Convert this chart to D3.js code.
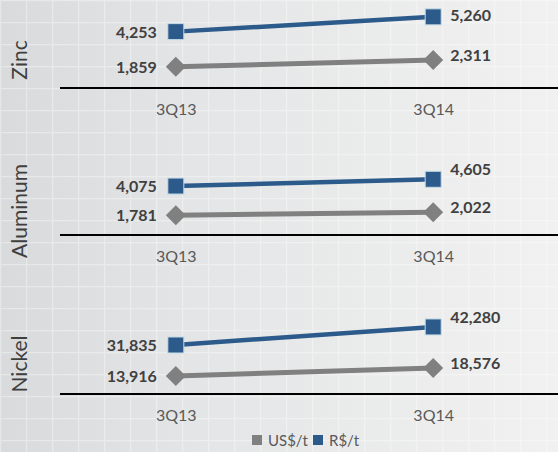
<!DOCTYPE html>
<html>
<head>
<meta charset="utf-8">
<script src="https://cdn.jsdelivr.net/npm/d3@7"></script>
<style>
  html, body { margin: 0; padding: 0; background: #e6e6e6; }
  svg { display: block; }
</style>
</head>
<body>
<div id="chart"></div>
<script>
// ---- data ----
const categories = ["3Q13", "3Q14"];
const metals = ["Zinc", "Aluminum", "Nickel"];
const seriesNames = ["US$/t", "R$/t"];
const zincUSD = [1859, 2311];
const zincBRL = [4253, 5260];
const aluminumUSD = [1781, 2022];
const aluminumBRL = [4075, 4605];
const nickelUSD = [13916, 18576];
const nickelBRL = [31835, 42280];
const yMax = [6000, 6000, 50000];

// ---- layout ----
const W = 558, H = 452;
const colors = { "US$/t": "#808080", "R$/t": "#2c5b8b" };
const panelLayout = [
  { axisY: 88,  zeroY: 94,  topY: 6,     titleY: 60 },
  { axisY: 235, zeroY: 238, topY: 161.5, titleY: 211 },
  { axisY: 394, zeroY: 400, topY: 313.6, titleY: 364 }
];
const panelData = [
  [zincUSD, zincBRL],
  [aluminumUSD, aluminumBRL],
  [nickelUSD, nickelBRL]
];

const svg = d3.select("#chart").append("svg")
  .attr("width", W).attr("height", H)
  .style("font-family", "Lato, 'Open Sans', sans-serif");

// background
const defs = svg.append("defs");
const grad = defs.append("linearGradient").attr("id", "bg").attr("x1", 0).attr("x2", 1).attr("y1", 0).attr("y2", 0);
grad.append("stop").attr("offset", "0%").attr("stop-color", "#d9dadb");
grad.append("stop").attr("offset", "35%").attr("stop-color", "#e4e5e6");
grad.append("stop").attr("offset", "100%").attr("stop-color", "#f1f1f1");
svg.append("rect").attr("width", W).attr("height", H).attr("fill", "url(#bg)");
const pat = defs.append("pattern").attr("id", "grid").attr("width", 26).attr("height", 22).attr("patternUnits", "userSpaceOnUse");
pat.append("path").attr("d", "M0 0.5H26 M0.5 0V22").attr("stroke", "#ffffff").attr("stroke-opacity", 0.35).attr("stroke-width", 1.5).attr("fill", "none");
svg.append("rect").attr("width", W).attr("height", H).attr("fill", "url(#grid)");

const x = d3.scalePoint().domain(categories).range([60, 549]).padding(0.45);

metals.forEach((metal, pi) => {
  const L = panelLayout[pi];
  const y = d3.scaleLinear().domain([0, yMax[pi]]).range([L.zeroY, L.topY]);
  const g = svg.append("g");

  // title
  g.append("text")
    .attr("transform", `translate(27,${L.titleY}) rotate(-90)`)
    .attr("text-anchor", "middle")
    .attr("font-size", 21)
    .attr("fill", "#3f3f3f")
    .text(metal);

  // axis
  const axis = d3.axisBottom(x).tickSize(0).tickPadding(0);
  const ag = g.append("g").attr("transform", `translate(0,${L.axisY})`).call(axis);
  ag.select(".domain").attr("d", `M60,0H${W}`).attr("stroke", "#000").attr("stroke-width", 2.2);
  ag.selectAll(".tick text")
    .attr("y", 27).attr("dy", 0)
    .attr("font-size", 16).attr("font-family", "Lato, 'Open Sans', sans-serif")
    .attr("fill", "#595959");

  const line = d3.line().x((d, i) => x(categories[i])).y(d => y(d));

  seriesNames.forEach((s, si) => {
    const vals = panelData[pi][si];
    g.append("path").datum(vals)
      .attr("d", line)
      .attr("fill", "none")
      .attr("stroke", colors[s])
      .attr("stroke-width", si === 0 ? 5 : 4.5);

    const pts = g.selectAll(null).data(vals).enter();
    if (si === 0) {
      pts.append("path")
        .attr("d", "M0,-10L10,0L0,10L-10,0Z")
        .attr("transform", (d, i) => `translate(${x(categories[i])},${y(d)})`)
        .attr("fill", colors[s]);
    } else {
      pts.append("rect")
        .attr("x", (d, i) => x(categories[i]) - 8)
        .attr("y", d => y(d) - 8)
        .attr("width", 16).attr("height", 16)
        .attr("fill", colors[s])
        .attr("stroke", "#c4dce6").attr("stroke-width", 1);
    }

    pts.append("text")
      .attr("x", (d, i) => i === 0 ? x(categories[i]) - 19 : x(categories[i]) + 17)
      .attr("y", (d, i) => {
        const cy = y(d);
        if (i === 0) return cy + 6;
        const off = si === 0 ? -5 : -10;
        return Math.max(15, cy + off) + 6;
      })
      .attr("text-anchor", (d, i) => i === 0 ? "end" : "start")
      .attr("font-size", 16)
      .attr("font-weight", "bold")
      .attr("fill", "#404040")
      .text(d => d3.format(",")(d));
  });
});

// legend
const legend = svg.append("g").attr("transform", "translate(252,435)");
const legendX = [0, 61];
seriesNames.forEach((s, i) => {
  const lg = legend.append("g").attr("transform", `translate(${legendX[i]},0)`);
  lg.append("rect").attr("width", 10).attr("height", 10).attr("fill", colors[s]);
  lg.append("text").attr("x", 16).attr("y", 10.5)
    .attr("font-size", 15).attr("fill", "#595959").text(s);
});
</script>
</body>
</html>
